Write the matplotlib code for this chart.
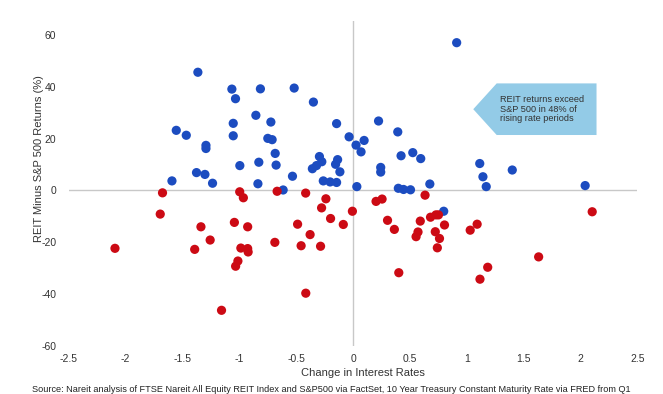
import matplotlib
matplotlib.use("Agg")
import matplotlib.pyplot as plt
from matplotlib.patches import Polygon

plt.rcParams['font.family'] = ['Liberation Sans', 'DejaVu Sans']
plt.rcParams['axes.unicode_minus'] = False

# rising/falling rate periods: change in 10y rate vs REIT minus S&P 500 return
blue_x = [0.911, -1.365, -1.066, -1.034, -0.815, -0.518, -0.349, -0.855, -0.723, -1.054,
          -0.145, 0.224, 0.393, -1.555, -1.467, -1.054, -0.750, -0.712, -0.035, 0.026,
          0.097, 0.070, -1.294, -1.294, -0.685, -0.829, -0.996, -0.677, -0.296, -0.275,
          -0.322, -0.358, -0.136, -0.154, -0.116, -1.377, -1.303, -0.533, -1.593, -1.236,
          -0.837, -0.262, -0.202, -0.145, -0.615, 0.033, 0.243, 0.243, 0.422, 0.525,
          0.595, 0.398, 0.444, 0.505, 0.675, 1.114, 1.142, 1.171, 1.400, 2.041, 0.797]
blue_y = [57.0, 45.6, 39.1, 35.4, 39.2, 39.5, 34.1, 29.0, 26.4, 25.9,
          25.8, 26.8, 22.6, 23.2, 21.3, 21.1, 20.1, 19.6, 20.7, 17.5,
          19.3, 14.9, 17.4, 16.2, 14.3, 10.9, 9.6, 9.8, 13.1, 11.1,
          9.6, 8.4, 11.9, 10.1, 7.2, 6.9, 6.2, 5.5, 3.7, 2.8,
          2.6, 3.7, 3.3, 3.1, 0.2, 1.5, 8.9, 7.1, 13.4, 14.6,
          12.3, 0.85, 0.4, 0.27, 2.5, 10.4, 5.3, 1.5, 7.9, 1.9, -8.0]

red_x = [-2.094, -1.696, -1.676, -1.393, -1.338, -1.257, -1.157, -1.044, -1.033, -1.013,
         -0.997, -0.965, -0.987, -0.927, -0.927, -0.923, -0.688, -0.668, -0.488, -0.457,
         -0.417, -0.416, -0.378, -0.286, -0.277, -0.239, -0.198, -0.086, -0.006, 0.202,
         0.255, 0.303, 0.363, 0.402, 0.554, 0.571, 0.591, 0.633, 0.681, 0.729,
         0.751, 0.723, 0.760, 0.741, 0.804, 1.030, 1.091, 1.116, 1.184, 1.632, 2.103]
red_y = [-22.3, -9.1, -0.9, -22.7, -14.0, -19.1, -46.2, -12.3, -29.2, -27.2,
         -0.5, -2.8, -22.2, -14.0, -22.4, -23.7, -20.0, -0.3, -13.0, -21.3,
         -1.0, -39.6, -17.0, -21.5, -6.7, -3.2, -10.8, -13.1, -8.0, -4.2,
         -3.3, -11.5, -15.0, -31.7, -17.8, -16.0, -11.8, -1.8, -10.3, -9.4,
         -9.4, -15.9, -18.5, -22.1, -13.3, -15.3, -13.0, -34.2, -29.6, -25.6, -8.2]

x_ticks = [-2.5, -2, -1.5, -1, -0.5, 0, 0.5, 1, 1.5, 2, 2.5]
x_ticklabels = ['-2.5', '-2', '-1.5', '-1', '-0.5', '0', '0.5', '1', '1.5', '2', '2.5']
y_ticks = [-60, -40, -20, 0, 20, 40, 60]

note = "REIT returns exceed\nS&P 500 in 48% of\nrising rate periods"
source = ("Source: Nareit analysis of FTSE Nareit All Equity REIT Index and S&P500 via FactSet, "
          "10 Year Treasury Constant Maturity Rate via FRED from Q1")

fig = plt.figure(figsize=(6.63, 3.94), dpi=100)
ax = fig.add_axes([0.1038, 0.1216, 0.8575, 0.826])

ax.axhline(0, color='#c8c8c8', lw=1, zorder=1)
ax.axvline(0, color='#c8c8c8', lw=1, zorder=1)

ax.scatter(blue_x, blue_y, s=44, color='#1c4cc0', edgecolors='none', zorder=3)
ax.scatter(red_x, red_y, s=44, color='#cc0a14', edgecolors='none', zorder=3)

ax.set_xlim(-2.5, 2.5)
ax.set_ylim(-60, 65.5)
ax.set_xticks(x_ticks)
ax.set_xticklabels(x_ticklabels)
ax.set_yticks(y_ticks)
for s in ax.spines.values():
    s.set_visible(False)
ax.tick_params(length=0, labelsize=7.5, colors='#333333')
ax.tick_params(axis='x', pad=6)
ax.tick_params(axis='y', pad=9)

ax.set_ylabel("REIT Minus S&P 500 Returns (%)", fontsize=8, color='#333333')
ax.yaxis.set_label_coords(-0.044, 0.575)
ax.set_xlabel("Change in Interest Rates", fontsize=8, color='#333333', va='center')
ax.xaxis.set_label_coords(0.5175, -0.0826)

# callout box
box = Polygon([[1.057, 31.35], [1.263, 41.3], [2.141, 41.3], [2.141, 21.4], [1.263, 21.4]],
              closed=True, facecolor='#93cbe7', edgecolor='none', zorder=2)
ax.add_patch(box)
ax.text(1.29, 31.4, note, fontsize=6.6, color='#333333', va='center', ha='left',
        linespacing=1.1, zorder=4)

fig.text(0.5, 1 - 389 / 394, source, fontsize=6.6, color='#222222', ha='center', va='center')

fig.savefig("out.png", dpi=100)
